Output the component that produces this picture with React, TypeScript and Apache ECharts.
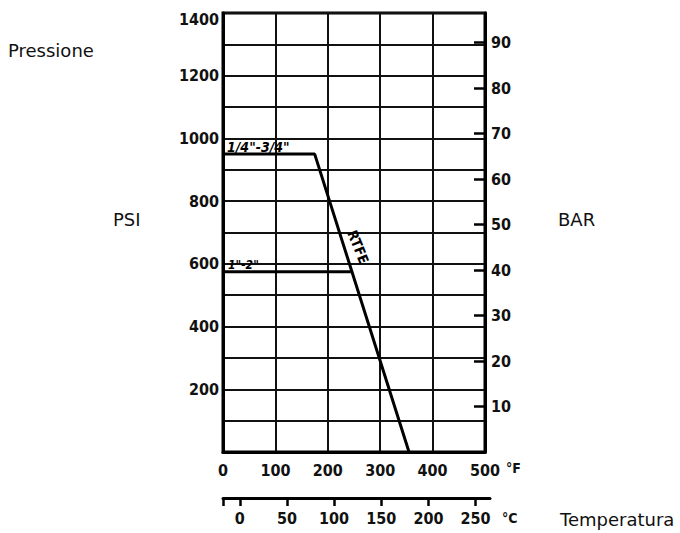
import React, { useEffect, useRef } from "react";
import * as echarts from "echarts";

// ---- data ----
const fahrenheitMin = 0;
const fahrenheitMax = 500;
const fahrenheitStep = 100;
const psiMin = 0;
const psiMax = 1400;
const psiGridStep = 100;
const psiLabelStep = 200;
const psiPerBar = 14.5038;
const barStep = 10;
const celsiusLabels = [0, 50, 100, 150, 200, 250];
const celsiusAxisEndF = 509.5; // °F where the °C scale line ends

const smallValvesName = '1/4"-3/4"';
const smallValvesTemp = [0, 175, 355];
const smallValvesPsi = [950, 950, 0];

const largeValvesName = '1"-2"';
const largeValvesTemp = [0, 244];
const largeValvesPsi = [575, 575];

const materialName = "RTFE";
const materialLabelAt = [258, 654];

const pressureTitle = "Pressione";
const psiTitle = "PSI";
const barTitle = "BAR";
const tempTitle = "Temperatura";
const fUnit = "°F";
const cUnit = "°C";

const fToC = (f: number) => ((f - 32) * 5) / 9;

const TICK_FONT = "'DejaVu Sans Condensed', 'DejaVu Sans', sans-serif";
const TEXT_FONT = "'DejaVu Sans', Verdana, sans-serif";

export default function App() {
  const ref = useRef<HTMLDivElement>(null);

  useEffect(() => {
    if (!ref.current) return;
    const chart = echarts.init(ref.current, undefined, { renderer: "svg" });

    const tickLabel = {
      color: "#111",
      fontFamily: TICK_FONT,
      fontWeight: "bold" as const,
      fontSize: 16,
    };

    const option: any = {
      animation: false,
      backgroundColor: "#fff",
      grid: [
        {
          left: 223,
          right: 195,
          top: 13,
          bottom: 81,
          show: true,
          borderColor: "#000",
          borderWidth: 3,
          backgroundColor: "transparent",
        },
        {
          left: 223,
          width: 267,
          top: 490,
          height: 8,
        },
      ],
      graphic: [
        { type: "text", left: 8, top: 41, style: { text: pressureTitle, font: `18px ${TEXT_FONT}`, fill: "#111" } },
        { type: "text", left: 113, top: 210, style: { text: psiTitle, font: `18px ${TEXT_FONT}`, fill: "#111" } },
        { type: "text", left: 558, top: 210, style: { text: barTitle, font: `18px ${TEXT_FONT}`, fill: "#111" } },
        { type: "text", left: 560, top: 510, style: { text: tempTitle, font: `18px ${TEXT_FONT}`, fill: "#111" } },
      ],
      xAxis: [
        {
          type: "value",
          gridIndex: 0,
          min: fahrenheitMin,
          max: fahrenheitMax,
          interval: fahrenheitStep,
          name: `{u|${fUnit}}`,
          nameLocation: "end",
          nameGap: 17,
          nameTextStyle: { rich: { u: { ...tickLabel, fontSize: 14, padding: [32, 0, 0, 0] } } },
          axisLine: { show: true, lineStyle: { color: "#000", width: 3 } },
          axisTick: { show: false },
          axisLabel: { ...tickLabel, margin: 10 },
          splitLine: { show: true, lineStyle: { color: "#111", width: 2 } },
        },
        {
          type: "value",
          gridIndex: 1,
          position: "bottom",
          min: fToC(fahrenheitMin),
          max: fToC(celsiusAxisEndF),
          name: `{u|${cUnit}}`,
          nameLocation: "end",
          nameGap: 12,
          nameTextStyle: { rich: { u: { ...tickLabel, fontSize: 14, padding: [40, 0, 0, 0] } } },
          axisLine: { show: true, lineStyle: { color: "#000", width: 3 } },
          axisTick: {
            show: true,
            length: 8,
            lineStyle: { color: "#000", width: 2.5 },
            customValues: [fToC(fahrenheitMin), ...celsiusLabels],
          },
          axisLabel: { ...tickLabel, margin: 12, customValues: celsiusLabels },
          splitLine: { show: false },
        },
      ],
      yAxis: [
        {
          type: "value",
          gridIndex: 0,
          min: psiMin,
          max: psiMax,
          interval: psiGridStep,
          axisLine: { show: true, lineStyle: { color: "#000", width: 3 } },
          axisTick: { show: false },
          axisLabel: {
            ...tickLabel,
            margin: 4,
            formatter: (v: number) =>
              v === psiMin || v % psiLabelStep !== 0
                ? ""
                : v === psiMax
                ? `{top|${v}}`
                : `${v}`,
            rich: {
              top: { ...tickLabel, padding: [13, 0, 0, 0] },
            },
          },
          splitLine: { show: true, lineStyle: { color: "#111", width: 2 } },
        },
        {
          type: "value",
          gridIndex: 0,
          position: "right",
          min: 0,
          max: psiMax / psiPerBar,
          interval: barStep,
          axisLine: { show: true, lineStyle: { color: "#000", width: 3 } },
          axisTick: { show: true, inside: true, length: 11, lineStyle: { color: "#000", width: 2.5 } },
          axisLabel: { ...tickLabel, margin: 6, showMinLabel: false, showMaxLabel: false },
          splitLine: { show: false },
        },
        {
          type: "value",
          gridIndex: 1,
          show: false,
        },
      ],
      series: [
        {
          type: "line",
          name: smallValvesName,
          xAxisIndex: 0,
          yAxisIndex: 0,
          showSymbol: false,
          lineStyle: { color: "#000", width: 3 },
          data: smallValvesTemp.map((t, i) => [t, smallValvesPsi[i]]),
          markPoint: {
            symbolSize: 0,
            data: [
              {
                coord: [smallValvesTemp[0], smallValvesPsi[0]],
                label: {
                  show: true,
                  position: "right",
                  distance: 4,
                  offset: [0, -7],
                  formatter: smallValvesName,
                  color: "#000",
                  fontFamily: TICK_FONT,
                  fontWeight: "bold",
                  fontStyle: "italic",
                  fontSize: 14,
                },
              },
              {
                coord: materialLabelAt,
                label: {
                  show: true,
                  position: "inside",
                  rotate: -68,
                  formatter: materialName,
                  color: "#000",
                  fontFamily: TICK_FONT,
                  fontWeight: "bold",
                  fontSize: 14,
                },
              },
            ],
          },
        },
        {
          type: "line",
          name: largeValvesName,
          xAxisIndex: 0,
          yAxisIndex: 0,
          showSymbol: false,
          lineStyle: { color: "#000", width: 3 },
          data: largeValvesTemp.map((t, i) => [t, largeValvesPsi[i]]),
          markPoint: {
            symbolSize: 0,
            data: [
              {
                coord: [largeValvesTemp[0], largeValvesPsi[0]],
                label: {
                  show: true,
                  position: "right",
                  distance: 5,
                  offset: [0, -7],
                  formatter: largeValvesName,
                  color: "#000",
                  fontFamily: TICK_FONT,
                  fontWeight: "bold",
                  fontStyle: "italic",
                  fontSize: 12,
                },
              },
            ],
          },
        },
      ],
    };

    chart.setOption(option);
    return () => chart.dispose();
  }, []);

  return (
    <div
      ref={ref}
      style={{ position: "fixed", left: 0, top: 0, width: 680, height: 533, background: "#fff" }}
    />
  );
}
